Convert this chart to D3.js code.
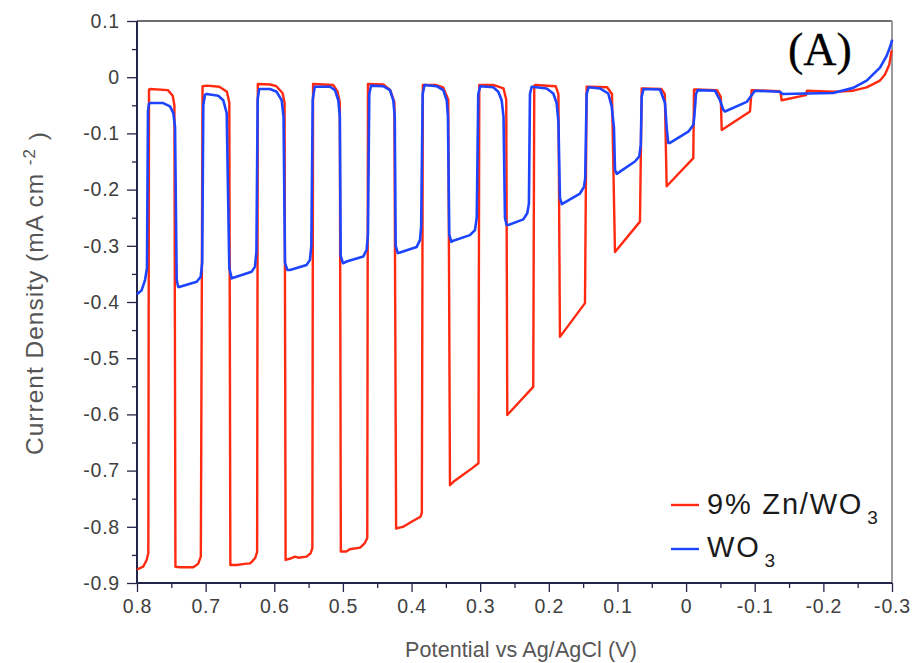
<!DOCTYPE html>
<html>
<head>
<meta charset="utf-8">
<script src="https://cdn.jsdelivr.net/npm/d3@7/dist/d3.min.js"></script>
<style>
  body { margin: 0; background: #fff; }
  text { font-family: "Liberation Sans", Arial, sans-serif; }
</style>
</head>
<body>
<svg id="chart" width="913" height="663"></svg>
<script>
// ---------- data ----------
const xTickValues = [0.8, 0.7, 0.6, 0.5, 0.4, 0.3, 0.2, 0.1, 0, -0.1, -0.2, -0.3];
const xTickLabels = ["0.8", "0.7", "0.6", "0.5", "0.4", "0.3", "0.2", "0.1", "0", "-0.1", "-0.2", "-0.3"];
const xMinorValues = [0.75, 0.65, 0.55, 0.45, 0.35, 0.25, 0.15, 0.05, -0.05, -0.15, -0.25];
const yTickValues = [0.1, 0, -0.1, -0.2, -0.3, -0.4, -0.5, -0.6, -0.7, -0.8, -0.9];
const yTickLabels = ["0.1", "0", "-0.1", "-0.2", "-0.3", "-0.4", "-0.5", "-0.6", "-0.7", "-0.8", "-0.9"];
const yMinorValues = [0.05, -0.05, -0.15, -0.25, -0.35, -0.45, -0.55, -0.65, -0.75, -0.85];

const seriesNames = ["9% Zn/WO", "WO"];   // subscript "3" added in legend
const seriesSubscripts = ["3", "3"];

// 9% Zn/WO3 : [potential (V), current density (mA cm-2)]
const znWO3Points = [
  [0.800,-0.876],[0.791,-0.871],[0.786,-0.859],[0.7835,-0.847],[0.7825,-0.022],
  [0.781,-0.021],[0.755,-0.023],[0.748,-0.033],[0.7455,-0.050],[0.7440,-0.871],
  [0.737,-0.872],[0.718,-0.872],[0.711,-0.866],[0.707,-0.853],[0.7045,-0.016],
  [0.698,-0.015],[0.680,-0.017],[0.669,-0.026],[0.6655,-0.045],[0.6640,-0.868],
  [0.655,-0.868],[0.643,-0.866],[0.635,-0.865],[0.628,-0.856],[0.625,-0.845],[0.624,-0.012],
  [0.606,-0.013],[0.597,-0.016],[0.588,-0.028],[0.585,-0.045],[0.5835,-0.859],
  [0.575,-0.856],[0.570,-0.853],[0.565,-0.855],[0.553,-0.853],[0.547,-0.847],[0.5445,-0.838],[0.5435,-0.012],
  [0.514,-0.014],[0.508,-0.025],[0.5045,-0.045],[0.503,-0.844],
  [0.495,-0.844],[0.490,-0.840],[0.475,-0.837],[0.468,-0.829],[0.4645,-0.820],[0.4635,-0.012],
  [0.441,-0.013],[0.431,-0.023],[0.425,-0.045],[0.4225,-0.803],
  [0.416,-0.801],[0.412,-0.800],[0.400,-0.791],[0.387,-0.782],[0.385,-0.775],[0.3835,-0.014],
  [0.364,-0.014],[0.354,-0.018],[0.3465,-0.040],[0.3440,-0.726],
  [0.339,-0.720],[0.329,-0.711],[0.312,-0.696],[0.3025,-0.687],[0.3013,-0.014],
  [0.280,-0.014],[0.266,-0.020],[0.262,-0.040],[0.2605,-0.601],
  [0.2227,-0.551],[0.2212,-0.015],
  [0.2195,-0.014],[0.190,-0.016],[0.186,-0.030],[0.1838,-0.462],
  [0.1473,-0.402],[0.1449,-0.017],
  [0.143,-0.017],[0.115,-0.018],[0.108,-0.030],[0.1036,-0.311],
  [0.0672,-0.257],[0.0647,-0.020],
  [0.063,-0.020],[0.036,-0.021],[0.031,-0.030],[0.0283,-0.194],
  [-0.0105,-0.144],[-0.0115,-0.022],
  [-0.013,-0.022],[-0.045,-0.023],[-0.0505,-0.035],[-0.0519,-0.094],
  [-0.0931,-0.061],[-0.0955,-0.023],
  [-0.097,-0.023],[-0.136,-0.025],[-0.138,-0.030],[-0.1392,-0.041],
  [-0.1746,-0.032],[-0.176,-0.024],
  [-0.2144,-0.026],[-0.2435,-0.024],[-0.2631,-0.018],[-0.2825,-0.006],[-0.2898,0.005],[-0.2960,0.022],[-0.2995,0.048]
];

// WO3 : [potential (V), current density (mA cm-2)]
const wo3Points = [
  [0.800,-0.386],[0.7932,-0.379],[0.7883,-0.361],[0.7855,-0.340],[0.7840,-0.060],[0.7825,-0.047],
  [0.7811,-0.046],[0.7617,-0.046],[0.7519,-0.052],[0.7471,-0.064],[0.7446,-0.088],[0.7422,-0.360],
  [0.7400,-0.373],[0.7374,-0.373],[0.7130,-0.364],[0.7072,-0.355],[0.7050,-0.330],[0.7034,-0.050],
  [0.7010,-0.031],[0.6985,-0.030],[0.6816,-0.033],[0.6743,-0.041],[0.6693,-0.064],[0.6655,-0.340],
  [0.6620,-0.358],[0.6597,-0.357],[0.6329,-0.346],[0.6281,-0.337],[0.6260,-0.310],[0.6242,-0.040],
  [0.6220,-0.021],[0.6062,-0.021],[0.5965,-0.026],[0.5892,-0.041],[0.5865,-0.070],[0.5844,-0.330],
  [0.5810,-0.343],[0.5771,-0.343],[0.5528,-0.334],[0.5480,-0.325],[0.5460,-0.300],[0.5440,-0.040],
  [0.5410,-0.017],[0.5188,-0.017],[0.5115,-0.023],[0.5067,-0.041],[0.5045,-0.070],[0.5032,-0.318],
  [0.5000,-0.331],[0.4945,-0.328],[0.4703,-0.319],[0.4654,-0.307],[0.4635,-0.280],[0.4616,-0.030],
  [0.4590,-0.015],[0.4412,-0.016],[0.4314,-0.023],[0.4266,-0.041],[0.4245,-0.070],[0.4231,-0.300],
  [0.4200,-0.313],[0.4168,-0.312],[0.3925,-0.302],[0.3877,-0.290],[0.3860,-0.265],[0.3838,-0.030],
  [0.3810,-0.014],[0.3634,-0.016],[0.3538,-0.023],[0.3488,-0.041],[0.3470,-0.070],[0.3450,-0.280],
  [0.3420,-0.293],[0.3392,-0.291],[0.3149,-0.281],[0.3076,-0.272],[0.3050,-0.250],[0.3028,-0.030],
  [0.3000,-0.016],[0.2809,-0.018],[0.2736,-0.026],[0.2687,-0.041],[0.2660,-0.070],[0.2639,-0.250],
  [0.2615,-0.263],[0.2591,-0.263],[0.2372,-0.253],[0.2314,-0.242],[0.2290,-0.225],[0.2275,-0.030],
  [0.2250,-0.017],[0.2031,-0.020],[0.1935,-0.029],[0.1886,-0.046],[0.1860,-0.080],[0.1838,-0.215],
  [0.1810,-0.226],[0.1546,-0.207],[0.1488,-0.195],[0.1470,-0.180],[0.1449,-0.030],
  [0.1420,-0.018],[0.1255,-0.020],[0.1134,-0.029],[0.1084,-0.052],[0.1051,-0.090],[0.1036,-0.165],
  [0.1010,-0.172],[0.0963,-0.168],[0.0745,-0.150],[0.0682,-0.141],[0.0660,-0.120],[0.0647,-0.035],
  [0.0620,-0.021],[0.0380,-0.022],[0.0307,-0.046],[0.0283,-0.090],[0.0260,-0.117],
  [0.0235,-0.117],[-0.0032,-0.097],[-0.0105,-0.085],[-0.0120,-0.070],[-0.0144,-0.030],
  [-0.0170,-0.023],[-0.0421,-0.024],[-0.0494,-0.041],[-0.0542,-0.058],[-0.0567,-0.061],
  [-0.0883,-0.044],[-0.0955,-0.032],[-0.1003,-0.024],[-0.1367,-0.026],[-0.1407,-0.030],
  [-0.1757,-0.029],[-0.2144,-0.028],[-0.2435,-0.019],[-0.2631,-0.006],[-0.2825,0.017],
  [-0.2922,0.038],[-0.2975,0.055],[-0.3003,0.067]
];

const seriesColors = ["#ff2a10", "#1d45ff"];

// ---------- layout ----------
const svg = d3.select("#chart");
const plotLeft = 137, plotRight = 892, plotTop = 21, plotBottom = 583;

const x = d3.scaleLinear().domain([0.8, -0.3]).range([plotLeft, plotRight]);
const y = d3.scaleLinear().domain([0.1, -0.9]).range([plotTop, plotBottom]);

const axisColor = "#23264a";
const labelColor = "#404040";

// frame: top and right borders
svg.append("line").attr("x1", plotLeft).attr("x2", plotRight).attr("y1", plotTop).attr("y2", plotTop)
  .attr("stroke", "#3c3c46").attr("stroke-width", 1.5);
svg.append("line").attr("x1", plotRight).attr("x2", plotRight).attr("y1", plotTop).attr("y2", plotBottom)
  .attr("stroke", "#9a9a9a").attr("stroke-width", 2);

// y axis major
const yAxis = svg.append("g").attr("transform", `translate(${plotLeft},0)`)
  .call(d3.axisLeft(y).tickValues(yTickValues)
    .tickFormat((d, i) => yTickLabels[i]).tickSize(10).tickPadding(7));
yAxis.select(".domain").remove();
yAxis.selectAll(".tick line").attr("stroke", axisColor).attr("stroke-width", 1.3);
yAxis.selectAll(".tick text").attr("fill", labelColor)
  .style("font-size", "19.5px").style("letter-spacing", "0.8px")
  .style("font-family", "'Liberation Sans', Arial, sans-serif");

// y axis minor
const yMinor = svg.append("g").attr("transform", `translate(${plotLeft},0)`)
  .call(d3.axisLeft(y).tickValues(yMinorValues).tickFormat("").tickSize(5));
yMinor.select(".domain").remove();
yMinor.selectAll(".tick line").attr("stroke", axisColor).attr("stroke-width", 1.3);

// x axis major
const xAxis = svg.append("g").attr("transform", `translate(0,${plotBottom})`)
  .call(d3.axisBottom(x).tickValues(xTickValues)
    .tickFormat((d, i) => xTickLabels[i]).tickSize(9).tickPadding(7));
xAxis.select(".domain").remove();
xAxis.selectAll(".tick line").attr("stroke", axisColor).attr("stroke-width", 1.3);
xAxis.selectAll(".tick text").attr("fill", labelColor)
  .style("font-size", "19.5px").style("letter-spacing", "0.8px")
  .style("font-family", "'Liberation Sans', Arial, sans-serif");

// x axis minor
const xMinor = svg.append("g").attr("transform", `translate(0,${plotBottom})`)
  .call(d3.axisBottom(x).tickValues(xMinorValues).tickFormat("").tickSize(5));
xMinor.select(".domain").remove();
xMinor.selectAll(".tick line").attr("stroke", axisColor).attr("stroke-width", 1.3);

// left & bottom axis lines
svg.append("line").attr("x1", plotLeft).attr("x2", plotLeft).attr("y1", plotTop).attr("y2", plotBottom + 0.5)
  .attr("stroke", axisColor).attr("stroke-width", 2);
svg.append("line").attr("x1", plotLeft).attr("x2", plotRight).attr("y1", plotBottom).attr("y2", plotBottom)
  .attr("stroke", axisColor).attr("stroke-width", 2);

// data lines
const line = d3.line().x(d => x(d[0])).y(d => y(d[1]));
svg.append("path").datum(znWO3Points).attr("d", line)
  .attr("fill", "none").attr("stroke", seriesColors[0]).attr("stroke-width", 2.4)
  .attr("stroke-linejoin", "round");
svg.append("path").datum(wo3Points).attr("d", line)
  .attr("fill", "none").attr("stroke", seriesColors[1]).attr("stroke-width", 2.6)
  .attr("stroke-linejoin", "round");

// axis titles
svg.append("text").attr("x", 521).attr("y", 657).attr("text-anchor", "middle")
  .attr("fill", "#555").style("font-size", "21.5px").style("letter-spacing", "0.1px")
  .text("Potential vs Ag/AgCl (V)");

const yTitle = svg.append("text").attr("transform", "translate(43,293) rotate(-90)")
  .attr("text-anchor", "middle").attr("fill", "#555")
  .style("font-size", "24.5px").style("letter-spacing", "1px");
yTitle.append("tspan").text("Current Density (mA cm  ");
yTitle.append("tspan").attr("dy", "-0.45em").style("font-size", "17px").text("-2");
yTitle.append("tspan").attr("dy", "0.45em").text(" )");

// panel label
svg.append("text").attr("x", 788).attr("y", 65)
  .style("font-family", "'Liberation Serif', 'Times New Roman', serif")
  .style("font-size", "46px").attr("fill", "#000")
  .attr("stroke", "#000").attr("stroke-width", 0.3).text("(A)");

// legend
const legendY = [505, 549];
const legendTextY = [514, 557];
seriesNames.forEach((name, i) => {
  svg.append("line").attr("x1", 671).attr("x2", 699).attr("y1", legendY[i]).attr("y2", legendY[i])
    .attr("stroke", seriesColors[i]).attr("stroke-width", 2.4);
  const t = svg.append("text").attr("x", 707).attr("y", legendTextY[i])
    .attr("fill", "#1a1a1a").style("font-size", "29px").style("letter-spacing", "1.8px");
  t.append("tspan").text(name);
  t.append("tspan").attr("dx", "4").attr("dy", "10").style("font-size", "19px").text(seriesSubscripts[i]);
});
</script>
</body>
</html>
